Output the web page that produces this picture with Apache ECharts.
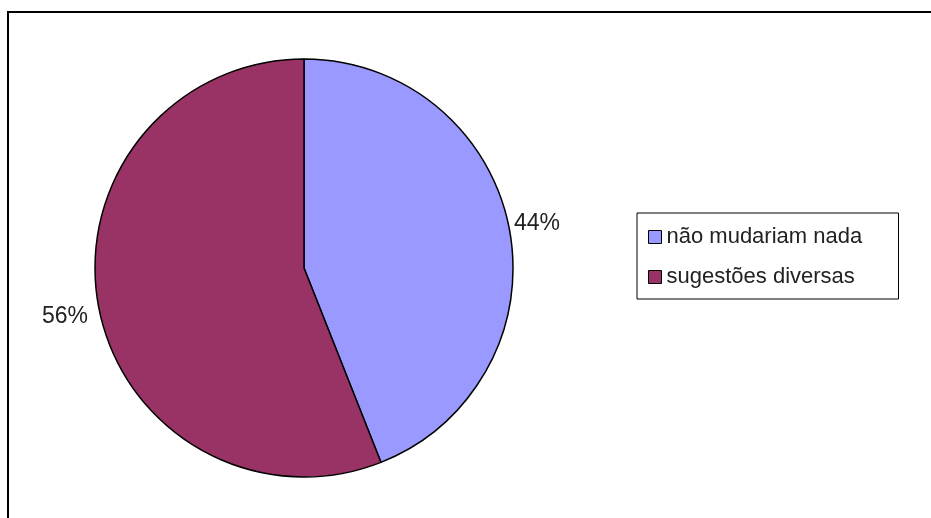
<!DOCTYPE html>
<html>
<head>
<meta charset="utf-8">
<script src="https://cdn.jsdelivr.net/npm/echarts@6/dist/echarts.min.js"></script>
<style>
  html, body { margin: 0; padding: 0; background: #fff; }
  #chart { width: 931px; height: 518px; }
</style>
</head>
<body>
<div id="chart"></div>
<script>
// Answer categories and their shares (percent)
const categories = ['não mudariam nada', 'sugestões diversas'];
const shares = [44, 56];
const sliceColors = ['#9999FF', '#993366'];

// Where each percentage label sits, beside the pie
const labelSpots = [
  { x: 514, y: 224 },
  { x: 42, y: 317 }
];

const chart = echarts.init(document.getElementById('chart'), null, { renderer: 'canvas' });

chart.setOption({
  animation: false,
  backgroundColor: '#ffffff',
  graphic: [{
    type: 'rect',
    shape: { x: 8, y: 12, width: 940, height: 530 },
    style: { fill: 'none', stroke: '#000', lineWidth: 2 },
    silent: true
  }],
  legend: {
    orient: 'vertical',
    left: 637,
    top: 213,
    data: categories,
    icon: 'rect',
    itemWidth: 13,
    itemHeight: 13,
    itemGap: 16,
    padding: [12, 8, 10, 11],
    borderColor: '#000',
    borderWidth: 1,
    backgroundColor: '#fff',
    itemStyle: { borderColor: '#000', borderWidth: 1 },
    selectedMode: false,
    textStyle: {
      fontFamily: 'Liberation Sans, Arial, sans-serif',
      fontSize: 22,
      lineHeight: 24,
      width: 224,
      color: '#222'
    }
  },
  series: [{
    type: 'pie',
    center: [304, 268],
    radius: 209,
    startAngle: 90,
    clockwise: true,
    silent: true,
    emphasis: { disabled: true },
    itemStyle: { borderColor: '#000', borderWidth: 1.5 },
    label: {
      show: true,
      formatter: '{c}%',
      fontFamily: 'Liberation Sans, Arial, sans-serif',
      fontSize: 23,
      color: '#222',
      overflow: 'none',
      width: 80
    },
    labelLine: { show: false },
    labelLayout: function (p) {
      const s = labelSpots[p.dataIndex];
      return { x: s.x, y: s.y, align: 'left', verticalAlign: 'middle' };
    },
    data: categories.map((name, i) => ({
      name: name,
      value: shares[i],
      itemStyle: { color: sliceColors[i] }
    }))
  }]
});
</script>
</body>
</html>
